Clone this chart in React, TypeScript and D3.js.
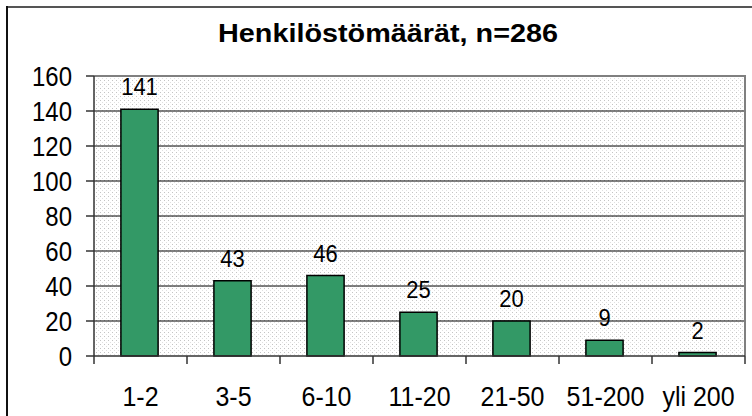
import React from "react";
import * as d3 from "d3";

const categories = ["1-2", "3-5", "6-10", "11-20", "21-50", "51-200", "yli 200"];
const values = [141, 43, 46, 25, 20, 9, 2];
const yTicks = [0, 20, 40, 60, 80, 100, 120, 140, 160];
const title = "Henkilöstömäärät, n=286";

const W = 752;
const H = 416;
const plot = { left: 94, right: 745, top: 76, bottom: 356 };
const SY = 1.12;

function T(props: { x: number; y: number; size: number; anchor: string; children: React.ReactNode; w?: number }) {
  return (
    <text
      transform={`translate(${props.x},${props.y}) scale(1,${SY})`}
      textAnchor={props.anchor}
      fontSize={props.size}
      fill="#000"
      textLength={props.w}
      lengthAdjust={props.w ? "spacingAndGlyphs" : undefined}
    >
      {props.children}
    </text>
  );
}

export default function App() {
  const x = d3.scaleBand<string>().domain(categories).range([plot.left, plot.right]).padding(0);
  const y = d3.scaleLinear().domain([0, 160]).range([plot.bottom, plot.top]);
  const bw = x.bandwidth() * 0.4;
  const font = "'Liberation Sans', Arial, sans-serif";
  const boundaries = categories.map((c) => x(c)!).concat([plot.right]);

  return (
    <svg width={W} height={H} style={{ position: "absolute", left: 0, top: 0 }} fontFamily={font}>
      <defs>
        <pattern id="dots" width={4} height={4} patternUnits="userSpaceOnUse">
          <rect width={4} height={4} fill="#ffffff" />
          <rect x={0} y={0} width={1} height={1} fill="#c4c4c4" />
          <rect x={2} y={2} width={1} height={1} fill="#e0e0e0" />
        </pattern>
      </defs>
      <rect x={0} y={0} width={W} height={H} fill="#ffffff" />
      {/* outer frame */}
      <line x1={7} y1={7} x2={W + 5} y2={7} stroke="#555" strokeWidth={2} />
      <line x1={7} y1={6} x2={7} y2={H + 5} stroke="#111" strokeWidth={2} />

      <text
        x={388}
        y={42}
        textAnchor="middle"
        fontSize={25}
        fontWeight="bold"
        textLength={340}
        lengthAdjust="spacingAndGlyphs"
      >
        {title}
      </text>

      {/* plot area */}
      <rect
        x={plot.left}
        y={plot.top}
        width={plot.right - plot.left}
        height={plot.bottom - plot.top}
        fill="url(#dots)"
      />
      {yTicks
        .filter((t) => t > 0 && t < 160)
        .map((t) => (
          <line key={t} x1={plot.left} x2={plot.right} y1={y(t)} y2={y(t)} stroke="#000" strokeWidth={1} />
        ))}
      <line x1={plot.left} x2={plot.right} y1={plot.top} y2={plot.top} stroke="#808080" strokeWidth={2} />
      <line x1={plot.right} x2={plot.right} y1={plot.top - 1} y2={plot.bottom} stroke="#808080" strokeWidth={2} />

      {/* bars */}
      {categories.map((c, i) => {
        const cx = x(c)! + x.bandwidth() / 2 - 1;
        return (
          <g key={c}>
            <rect
              x={cx - bw / 2}
              y={y(values[i])}
              width={bw}
              height={plot.bottom - y(values[i])}
              fill="#339966"
              stroke="#000"
              strokeWidth={1.5}
            />
            <T x={cx} y={y(values[i]) - 14} size={22} anchor="middle">
              {values[i]}
            </T>
            <T x={cx + 1} y={406} size={25} anchor="middle">
              {c}
            </T>
          </g>
        );
      })}

      {/* axes */}
      <line x1={plot.left} x2={plot.left} y1={plot.top} y2={plot.bottom} stroke="#333" strokeWidth={1.5} />
      <line x1={plot.left} x2={plot.right} y1={plot.bottom} y2={plot.bottom} stroke="#333" strokeWidth={1.5} />
      {yTicks.map((t) => (
        <g key={t}>
          <line x1={plot.left - 8} x2={plot.left} y1={y(t)} y2={y(t)} stroke="#333" strokeWidth={1.5} />
          <T x={72} y={y(t) + 10} size={24} anchor="end">
            {t}
          </T>
        </g>
      ))}
      {boundaries.map((bx, i) => (
        <line key={i} x1={bx} x2={bx} y1={plot.bottom} y2={plot.bottom + 8} stroke="#333" strokeWidth={1.5} />
      ))}
    </svg>
  );
}
